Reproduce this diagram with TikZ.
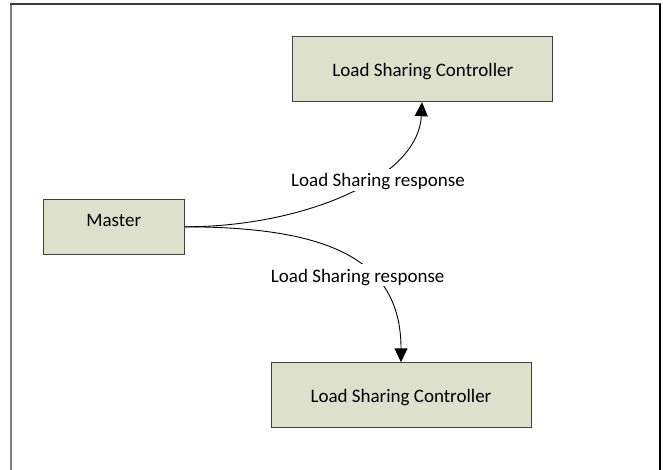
\documentclass[tikz,border=0pt]{standalone}
\usepackage{fontspec}
\setmainfont{Carlito}
\usetikzlibrary{arrows.meta}
\definecolor{boxfill}{RGB}{221,224,203}
\definecolor{boxline}{RGB}{64,64,64}
\tikzset{
  box/.style={draw=boxline, line width=1pt, fill=boxfill, inner sep=0pt,
    font=\fontsize{19}{22}\selectfont, text=black},
  lbl/.style={fill=white, inner xsep=1pt, inner ysep=2pt, text height=16pt, text depth=2pt,
    font=\fontsize{19}{22}\selectfont, anchor=base},
  conn/.style={line width=0.9pt, -{Triangle[length=14pt,width=13pt]}}
}
\begin{document}
\begin{tikzpicture}[x=1pt,y=-1pt]
\useasboundingbox (0,0) rectangle (663,470);
% frame
\draw[line width=1.3pt, color={rgb,255:red,128;green,128;blue,128}] (11,470) -- (11,4);
\draw[line width=1.3pt, color={rgb,255:red,60;green,60;blue,60}] (10.4,4) -- (660.6,4);
\draw[line width=1.3pt, black] (660,4) -- (660,470);
% boxes
\node[box, minimum width=260pt, minimum height=65pt, text height=15pt, text depth=0pt] (lsc1) at (422.9,69.2) {Load Sharing Controller};
\node[box, minimum width=260pt, minimum height=65pt, text height=15pt, text depth=0pt] (lsc2) at (401,395) {Load Sharing Controller};
\node[box, minimum width=141pt, minimum height=55pt, text height=7pt, text depth=7pt] (master) at (113.8,226.8) {Master};
% connectors
\coordinate (t1) at (422,102.2);
\coordinate (t2) at (401,362.3);
\draw[conn] (master.east) .. controls (300,227) and (418,180) .. (t1);
\draw[conn] (master.east) .. controls (330,227) and (401,260) .. (t2);
% labels
\node[lbl] (l1) at (378,186.7) {Load Sharing response};
\node[lbl] (l2) at (357.7,282.3) {Load Sharing response};
\end{tikzpicture}
\end{document}
